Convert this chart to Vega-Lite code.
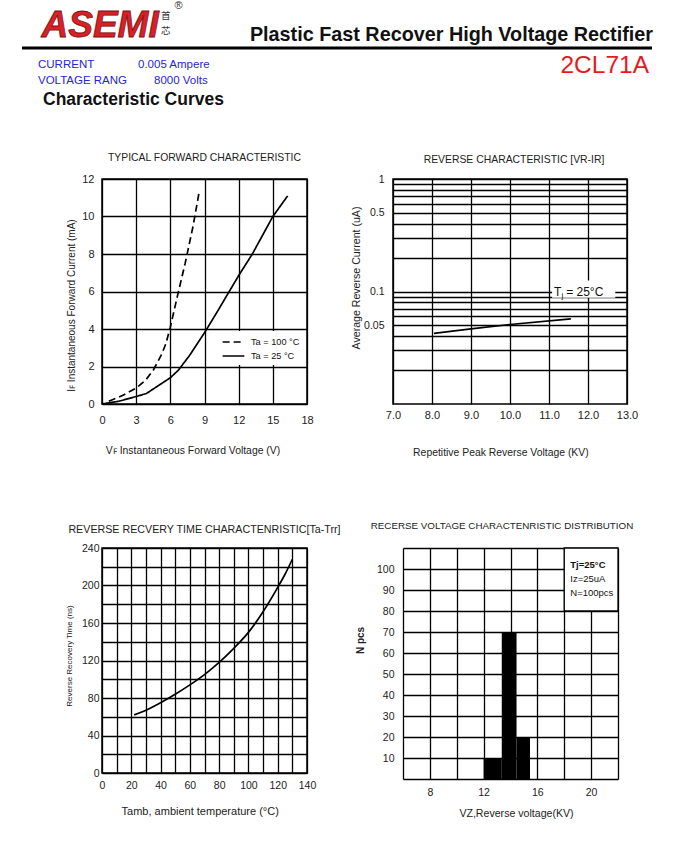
{
  "$schema": "https://vega.github.io/schema/vega-lite/v6.json",
  "background": "white",
  "padding": 0,
  "columns": 2,
  "bounds": "flush",
  "spacing": {"row": 144, "column": 86},
  "config": {
    "font": "Liberation Sans",
    "view": {"stroke": "black", "strokeWidth": 1.5},
    "axis": {"grid": true, "gridColor": "black", "gridWidth": 1.3, "gridOpacity": 1, "domain": false, "ticks": false, "labelColor": "#222", "titleColor": "#222", "titleFontWeight": "normal", "labelFlush": false, "labelOverlap": false, "labelFont": "Liberation Sans", "titleFont": "Liberation Sans"},
    "title": {"fontWeight": "normal", "color": "#222", "font": "Liberation Sans", "fontSize": 10.4}
  },
  "concat": [
    {
      "width": 205, "height": 35,
      "view": {"stroke": null},
      "layer": [
        {"data": {"values": [{"part": "band"}]}, "mark": {"type": "rect", "color": "white"},
         "encoding": {
           "x": {"datum": 0, "type": "quantitative", "scale": {"domain": [102, 307], "nice": false, "zero": false}, "axis": null},
           "x2": {"datum": 673},
           "y": {"datum": 0, "type": "quantitative", "scale": {"domain": [0, 35], "reverse": true, "nice": false, "zero": false}, "axis": null},
           "y2": {"datum": 35}}},
        {"data": {"values": [{"part": "line"}]}, "mark": {"type": "rule", "color": "black", "strokeWidth": 3},
         "encoding": {"x": {"datum": 22, "type": "quantitative"}, "x2": {"datum": 652}, "y": {"datum": 48, "type": "quantitative"}}},
        {"data": {"values": [{"t": "ASEMI"}]}, "mark": {"type": "text", "fontWeight": "bold", "fontStyle": "italic", "fontSize": 37, "fill": "#d92027", "stroke": "#7a1010", "strokeWidth": 0.8, "align": "left", "baseline": "alphabetic"},
         "encoding": {"text": {"field": "t"}, "x": {"datum": 41.5, "type": "quantitative"}, "y": {"datum": 36.5, "type": "quantitative"}}},
        {"data": {"values": [{"t": "首"}]}, "mark": {"type": "text", "font": "Noto Sans CJK SC", "fontSize": 9.5, "color": "#333", "align": "left", "baseline": "middle"},
         "encoding": {"text": {"field": "t"}, "x": {"datum": 161, "type": "quantitative"}, "y": {"datum": 16, "type": "quantitative"}}},
        {"data": {"values": [{"t": "芯"}]}, "mark": {"type": "text", "font": "Noto Sans CJK SC", "fontSize": 9.5, "color": "#333", "align": "left", "baseline": "middle"},
         "encoding": {"text": {"field": "t"}, "x": {"datum": 161, "type": "quantitative"}, "y": {"datum": 30.5, "type": "quantitative"}}},
        {"data": {"values": [{"t": "®"}]}, "mark": {"type": "text", "fontSize": 11, "color": "#333", "align": "center", "baseline": "middle"},
         "encoding": {"text": {"field": "t"}, "x": {"datum": 178.5, "type": "quantitative"}, "y": {"datum": 6, "type": "quantitative"}}},
        {"data": {"values": [{"t": "CURRENT"}]}, "mark": {"type": "text", "fontSize": 11.5, "color": "#2525d8", "align": "left", "baseline": "middle"},
         "encoding": {"text": {"field": "t"}, "x": {"datum": 38, "type": "quantitative"}, "y": {"datum": 64.5, "type": "quantitative"}}},
        {"data": {"values": [{"t": "0.005  Ampere"}]}, "mark": {"type": "text", "fontSize": 11.5, "color": "#2525d8", "align": "left", "baseline": "middle"},
         "encoding": {"text": {"field": "t"}, "x": {"datum": 138, "type": "quantitative"}, "y": {"datum": 64.5, "type": "quantitative"}}},
        {"data": {"values": [{"t": "VOLTAGE RANG"}]}, "mark": {"type": "text", "fontSize": 11.5, "color": "#2525d8", "align": "left", "baseline": "middle"},
         "encoding": {"text": {"field": "t"}, "x": {"datum": 38, "type": "quantitative"}, "y": {"datum": 81, "type": "quantitative"}}},
        {"data": {"values": [{"t": "8000  Volts"}]}, "mark": {"type": "text", "fontSize": 11.5, "color": "#2525d8", "align": "left", "baseline": "middle"},
         "encoding": {"text": {"field": "t"}, "x": {"datum": 154, "type": "quantitative"}, "y": {"datum": 81, "type": "quantitative"}}},
        {"data": {"values": [{"t": "Characteristic Curves"}]}, "mark": {"type": "text", "fontSize": 17.5, "fontWeight": "bold", "color": "#111", "align": "left", "baseline": "middle"},
         "encoding": {"text": {"field": "t"}, "x": {"datum": 43, "type": "quantitative"}, "y": {"datum": 100, "type": "quantitative"}}}
      ]
    },
    {
      "width": 234, "height": 35,
      "view": {"stroke": null},
      "layer": [
        {"data": {"values": [{"t": "Plastic Fast Recover High Voltage Rectifier"}]}, "mark": {"type": "text", "fontSize": 19.8, "fontWeight": "bold", "color": "#111", "align": "right", "baseline": "alphabetic"},
         "encoding": {"text": {"field": "t"},
           "x": {"datum": 653, "type": "quantitative", "scale": {"domain": [393, 627], "nice": false, "zero": false}, "axis": null},
           "y": {"datum": 40.5, "type": "quantitative", "scale": {"domain": [0, 35], "reverse": true, "nice": false, "zero": false}, "axis": null}}},
        {"data": {"values": [{"t": "2CL71A"}]}, "mark": {"type": "text", "fontSize": 24.5, "color": "#e8181e", "align": "right", "baseline": "middle"},
         "encoding": {"text": {"field": "t"}, "x": {"datum": 649, "type": "quantitative"}, "y": {"datum": 66, "type": "quantitative"}}}
      ]
    },
    {
      "width": 205, "height": 225,
      "title": {"text": "TYPICAL FORWARD CHARACTERISTIC", "offset": 10},
      "data": {"values": [
        {"ta": "Ta = 100 °C", "vf": 0.6, "cur": 0.15},
        {"ta": "Ta = 100 °C", "vf": 1.8, "cur": 0.45},
        {"ta": "Ta = 100 °C", "vf": 3.0, "cur": 0.85},
        {"ta": "Ta = 100 °C", "vf": 3.8, "cur": 1.25},
        {"ta": "Ta = 100 °C", "vf": 4.5, "cur": 1.8},
        {"ta": "Ta = 100 °C", "vf": 5.2, "cur": 2.6},
        {"ta": "Ta = 100 °C", "vf": 5.6, "cur": 3.2},
        {"ta": "Ta = 100 °C", "vf": 6.0, "cur": 4.1},
        {"ta": "Ta = 100 °C", "vf": 6.6, "cur": 5.7},
        {"ta": "Ta = 100 °C", "vf": 7.3, "cur": 7.5},
        {"ta": "Ta = 100 °C", "vf": 8.0, "cur": 9.5},
        {"ta": "Ta = 100 °C", "vf": 8.5, "cur": 11.2},
        {"ta": "Ta = 25 °C", "vf": 0.0, "cur": 0.0},
        {"ta": "Ta = 25 °C", "vf": 1.5, "cur": 0.15},
        {"ta": "Ta = 25 °C", "vf": 3.0, "cur": 0.4},
        {"ta": "Ta = 25 °C", "vf": 3.9, "cur": 0.56},
        {"ta": "Ta = 25 °C", "vf": 5.0, "cur": 1.0},
        {"ta": "Ta = 25 °C", "vf": 6.0, "cur": 1.4},
        {"ta": "Ta = 25 °C", "vf": 6.7, "cur": 1.8},
        {"ta": "Ta = 25 °C", "vf": 7.7, "cur": 2.6},
        {"ta": "Ta = 25 °C", "vf": 9.0, "cur": 3.8},
        {"ta": "Ta = 25 °C", "vf": 10.1, "cur": 4.9},
        {"ta": "Ta = 25 °C", "vf": 12.0, "cur": 6.85},
        {"ta": "Ta = 25 °C", "vf": 13.2, "cur": 8.0},
        {"ta": "Ta = 25 °C", "vf": 15.0, "cur": 10.0},
        {"ta": "Ta = 25 °C", "vf": 16.3, "cur": 11.1}
      ]},
      "mark": {"type": "line", "color": "black", "strokeWidth": 1.7},
      "encoding": {
        "x": {"field": "vf", "type": "quantitative", "scale": {"domain": [0, 18], "nice": false},
              "axis": {"values": [0, 3, 6, 9, 12, 15, 18], "tickCount": 100, "format": "d", "title": "Vꜰ  Instantaneous Forward Voltage (V)", "labelFontSize": 11, "labelPadding": 10, "titlePadding": 20, "titleFontSize": 10.4, "titleX": 90.5}},
        "y": {"field": "cur", "type": "quantitative", "scale": {"domain": [0, 12], "nice": false},
              "axis": {"values": [0, 2, 4, 6, 8, 10, 12], "tickCount": 100, "format": "d", "title": "Iꜰ  Instantaneous Forward Current (mA)", "labelFontSize": 11, "labelPadding": 8, "titlePadding": 5, "titleFontSize": 10, "titleY": 126}},
        "strokeDash": {"field": "ta", "type": "nominal",
              "scale": {"domain": ["Ta = 100 °C", "Ta = 25 °C"], "range": [[7, 4], [1, 0]]},
              "legend": {"orient": "none", "legendX": 120.5, "legendY": 331, "title": null, "fillColor": "white", "padding": 3, "symbolType": "M-1.55,0H1.55", "symbolSize": 196, "symbolStrokeColor": "black", "symbolStrokeWidth": 1.6, "labelFontSize": 9.2, "labelOffset": 9.5, "rowPadding": 0, "labelColor": "#111"}}
      }
    },
    {
      "width": 234, "height": 225,
      "title": {"text": "REVERSE CHARACTERISTIC [VR-IR]", "offset": 9, "dx": 4},
      "layer": [
        {"data": {"values": [
          {"kv": 8.05, "ir": 0.0424},
          {"kv": 9.0, "ir": 0.0466},
          {"kv": 10.0, "ir": 0.0509},
          {"kv": 11.56, "ir": 0.0572}
        ]},
         "mark": {"type": "line", "color": "black", "strokeWidth": 1.7},
         "encoding": {
           "x": {"field": "kv", "type": "quantitative", "scale": {"domain": [7, 13], "nice": false},
                 "axis": {"values": [7, 8, 9, 10, 11, 12, 13], "tickCount": 100, "format": ".1f", "title": "Repetitive Peak Reverse Voltage (KV)", "labelFontSize": 11, "labelPadding": 5, "titlePadding": 27, "titleFontSize": 10.4, "titleX": 107.4}},
           "y": {"field": "ir", "type": "quantitative", "scale": {"type": "log", "domain": [0.01, 1], "nice": false},
                 "axis": {"values": [0.02, 0.03, 0.04, 0.05, 0.06, 0.07, 0.08, 0.09, 0.1, 0.2, 0.3, 0.4, 0.5, 0.6, 0.7, 0.8, 0.9, 1], "tickCount": 100,
                          "labelExpr": "datum.value == 1 ? '1' : datum.value == 0.5 ? '0.5' : datum.value == 0.1 ? '0.1' : datum.value == 0.05 ? '0.05' : ''",
                          "title": "Average Reverse  Current  (uA)", "labelFontSize": 10.5, "labelPadding": 9, "titlePadding": 2, "titleFontSize": 10.6, "titleY": 98.5}}
         }},
        {"data": {"values": [{"part": "label box"}]}, "mark": {"type": "rect", "color": "white"},
         "encoding": {"x": {"datum": 11.08, "type": "quantitative"}, "x2": {"datum": 12.7}, "y": {"datum": 0.088, "type": "quantitative"}, "y2": {"datum": 0.125}}},
        {"data": {"values": [{"t": "T"}]}, "mark": {"type": "text", "fontSize": 12, "color": "#111", "align": "left", "baseline": "middle"},
         "encoding": {"text": {"field": "t"}, "x": {"datum": 11.13, "type": "quantitative"}, "y": {"datum": 0.1, "type": "quantitative"}}},
        {"data": {"values": [{"t": "j"}]}, "mark": {"type": "text", "fontSize": 8, "color": "#111", "align": "left", "baseline": "middle", "dx": 7.5, "dy": 4},
         "encoding": {"text": {"field": "t"}, "x": {"datum": 11.13, "type": "quantitative"}, "y": {"datum": 0.1, "type": "quantitative"}}},
        {"data": {"values": [{"t": "=  25°C"}]}, "mark": {"type": "text", "fontSize": 12, "color": "#111", "align": "left", "baseline": "middle"},
         "encoding": {"text": {"field": "t"}, "x": {"datum": 11.44, "type": "quantitative"}, "y": {"datum": 0.1, "type": "quantitative"}}}
      ]
    },
    {
      "width": 205, "height": 225,
      "title": {"text": "REVERSE RECVERY TIME CHARACTENRISTIC[Ta-Trr]", "offset": 7.5, "fontSize": 10.7},
      "data": {"values": [
        {"ta": 22, "trr": 62},
        {"ta": 30, "trr": 67},
        {"ta": 40, "trr": 75},
        {"ta": 50, "trr": 84},
        {"ta": 60, "trr": 94},
        {"ta": 70, "trr": 105},
        {"ta": 80, "trr": 118},
        {"ta": 90, "trr": 133},
        {"ta": 100, "trr": 150},
        {"ta": 110, "trr": 172},
        {"ta": 120, "trr": 198},
        {"ta": 125, "trr": 212},
        {"ta": 130, "trr": 228}
      ]},
      "mark": {"type": "line", "color": "black", "strokeWidth": 1.7, "interpolate": "monotone"},
      "encoding": {
        "x": {"field": "ta", "type": "quantitative", "scale": {"domain": [0, 140], "nice": false},
              "axis": {"values": [0, 10, 20, 30, 40, 50, 60, 70, 80, 90, 100, 110, 120, 130, 140], "tickCount": 100, "format": "d", "labelExpr": "datum.value % 20 == 0 ? datum.label : ''", "title": "Tamb, ambient temperature (°C)", "labelFontSize": 10.5, "labelPadding": 7.5, "titlePadding": 14, "titleFontSize": 11, "titleX": 97.7}},
        "y": {"field": "trr", "type": "quantitative", "scale": {"domain": [0, 240], "nice": false},
              "axis": {"values": [0, 20, 40, 60, 80, 100, 120, 140, 160, 180, 200, 220, 240], "tickCount": 100, "format": "d", "labelExpr": "datum.value % 40 == 0 ? datum.label : ''", "title": "Reverse Recovery Time  (ns)", "labelFontSize": 10.5, "labelPadding": 3, "titlePadding": 8, "titleFontSize": 8, "titleY": 107.5}}
      }
    },
    {
      "width": 225, "height": 231,
      "view": {"stroke": null},
      "title": {"text": "RECERSE VOLTAGE CHARACTENRISTIC DISTRIBUTION", "offset": 12, "fontSize": 9.8, "dx": -3.5},
      "layer": [
        {"data": {"values": [
          {"vz0": 12.0, "vz1": 13.35, "n": 10},
          {"vz0": 13.35, "vz1": 14.45, "n": 70},
          {"vz0": 14.45, "vz1": 15.45, "n": 20}
        ]},
         "mark": {"type": "rect", "color": "black"},
         "encoding": {
           "x": {"field": "vz0", "type": "quantitative", "scale": {"domain": [6, 22], "range": [10, 225], "nice": false},
                 "axis": {"values": [6, 8, 10, 12, 14, 16, 18, 20, 22], "tickCount": 100, "format": "d", "labelExpr": "datum.value % 4 == 0 ? datum.label : ''", "title": "VZ,Reverse voltage(KV)", "labelFontSize": 10.5, "labelPadding": 8.4, "titlePadding": 10.8, "titleFontSize": 10.6, "titleX": 123}},
           "x2": {"field": "vz1"},
           "y": {"field": "n", "type": "quantitative", "scale": {"domain": [0, 110], "nice": false},
                 "axis": {"values": [0, 10, 20, 30, 40, 50, 60, 70, 80, 90, 100, 110], "tickCount": 100, "format": "d", "labelExpr": "datum.value >= 10 && datum.value <= 100 ? datum.label : ''", "title": "N pcs", "titleFontWeight": "bold", "labelFontSize": 10.5, "labelPadding": -1, "titlePadding": 11, "titleFontSize": 10, "titleY": 92}},
           "y2": {"datum": 0}
         }},
        {"data": {"values": [{"part": "note box"}]}, "mark": {"type": "rect", "fill": "white", "stroke": "black", "strokeWidth": 1.3},
         "encoding": {"x": {"datum": 18, "type": "quantitative"}, "x2": {"datum": 22}, "y": {"datum": 80, "type": "quantitative"}, "y2": {"datum": 110}}},
        {"data": {"values": [{"t": "Tj=25°C"}]}, "mark": {"type": "text", "fontSize": 9.5, "fontWeight": "bold", "color": "#111", "align": "left", "baseline": "middle"},
         "encoding": {"text": {"field": "t"}, "x": {"datum": 18.45, "type": "quantitative"}, "y": {"datum": 102, "type": "quantitative"}}},
        {"data": {"values": [{"t": "Iz=25uA"}]}, "mark": {"type": "text", "fontSize": 9.5, "color": "#111", "align": "left", "baseline": "middle"},
         "encoding": {"text": {"field": "t"}, "x": {"datum": 18.45, "type": "quantitative"}, "y": {"datum": 95.2, "type": "quantitative"}}},
        {"data": {"values": [{"t": "N=100pcs"}]}, "mark": {"type": "text", "fontSize": 9.5, "color": "#111", "align": "left", "baseline": "middle"},
         "encoding": {"text": {"field": "t"}, "x": {"datum": 18.45, "type": "quantitative"}, "y": {"datum": 88.6, "type": "quantitative"}}}
      ]
    }
  ]
}
